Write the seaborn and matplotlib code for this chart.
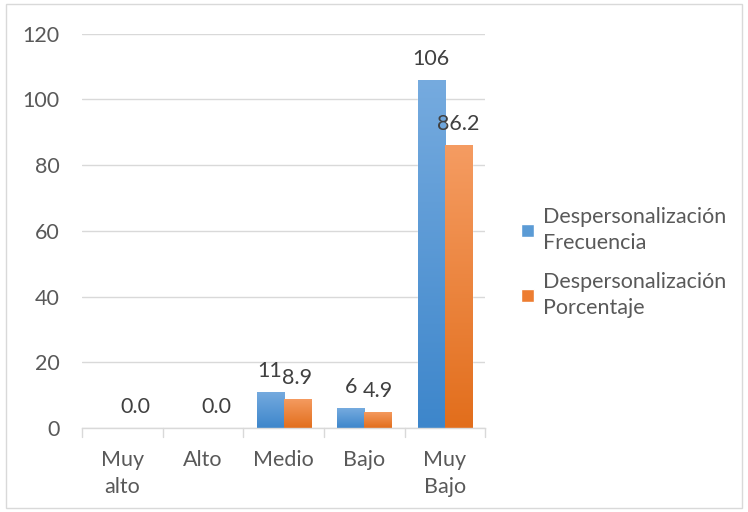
import numpy as np
import pandas as pd
import matplotlib
matplotlib.use("Agg")
import matplotlib.pyplot as plt
import seaborn as sns
from matplotlib.colors import LinearSegmentedColormap
from matplotlib.patches import Rectangle

categories = ["Muy\nalto", "Alto", "Medio", "Bajo", "Muy\nBajo"]
series_names = ["Despersonalización\nFrecuencia", "Despersonalización\nPorcentaje"]
frecuencia = [0, 0, 11, 6, 106]
porcentaje = [0.0, 0.0, 8.9, 4.9, 86.2]
y_ticks = [0, 20, 40, 60, 80, 100, 120]

base_colors = ["#5B9BD5", "#ED7D31"]
grad_colors = [("#76ABDF", "#3D86CB"), ("#F59C62", "#E26E1C")]

df = pd.DataFrame({
    "categoria": categories * 2,
    "serie": [series_names[0]] * len(categories) + [series_names[1]] * len(categories),
    "valor": frecuencia + porcentaje,
})

sns.set_style("white")
plt.rcParams["font.family"] = ["Lato", "DejaVu Sans"]
text_color = "#595959"
fs = 15.5

fig = plt.figure(figsize=(7.48, 5.12), dpi=100)
ax = fig.add_axes([0.1096, 0.164, 0.539, 0.770])

sns.barplot(data=df, x="categoria", y="valor", hue="serie", order=categories,
            hue_order=series_names, palette=base_colors, width=0.67,
            saturation=1, ax=ax, legend=True)

ax.set_ylim(0, 120)
ax.set_xlim(-0.5, len(categories) - 0.5)
ax.set_yticks(y_ticks)
ax.set_yticklabels([str(t) for t in y_ticks], fontsize=fs, color=text_color)
ax.tick_params(axis="y", length=0, pad=16)
ax.set_xticks(range(len(categories)))
ax.set_xticklabels(categories, fontsize=fs, color=text_color, linespacing=1.45)
ax.tick_params(axis="x", length=0, pad=16)
ax.set_xlabel("")
ax.set_ylabel("")
ax.yaxis.grid(True, color="#D9D9D9", linewidth=1)
ax.set_axisbelow(True)
for s in ["left", "right", "top"]:
    ax.spines[s].set_visible(False)
ax.spines["bottom"].set_color("#D9D9D9")
ax.spines["bottom"].set_linewidth(1)

# category separator ticks below the axis line
for b in np.arange(-0.5, len(categories), 1.0):
    ax.plot([b, b], [0, -2.6], color="#D9D9D9", lw=1, clip_on=False, zorder=1)

# vertical gradient fill for each bar
bar_patches = [p for p in ax.patches if isinstance(p, Rectangle) and p.get_width() > 0][:2 * len(categories)]
for i, p in enumerate(bar_patches):
    si = i // len(categories)
    x0, y0 = p.get_x(), p.get_y()
    w, h = p.get_width(), p.get_height()
    if h <= 0:
        continue
    cmap = LinearSegmentedColormap.from_list("g", [grad_colors[si][1], grad_colors[si][0]])
    grad = np.linspace(0, 1, 256).reshape(-1, 1)
    im = ax.imshow(grad, cmap=cmap, origin="lower", aspect="auto",
                   extent=[x0, x0 + w, y0, y0 + h], zorder=p.get_zorder() + 0.1)
    im.set_clip_path(p)
ax.set_xlim(-0.5, len(categories) - 0.5)
ax.set_ylim(0, 120)

# value labels
bw = 0.67 / 2
for i, v in enumerate(frecuencia):
    if v != 0:
        ax.annotate(f"{v:d}", (i - bw / 2, v), xytext=(0, 8), textcoords="offset points",
                    ha="center", va="bottom", fontsize=fs, color="#404040")
for i, v in enumerate(porcentaje):
    ax.annotate(f"{v:.1f}", (i + bw / 2, v), xytext=(0, 8), textcoords="offset points",
                ha="center", va="bottom", fontsize=fs, color="#404040")

# legend on the right
handles, labels = ax.get_legend_handles_labels()
ax.legend(handles, labels, loc="center left", bbox_to_anchor=(1.04, 0.42), frameon=False,
          fontsize=fs, labelcolor=text_color, handlelength=0.6, handleheight=0.6,
          handletextpad=0.45, labelspacing=0.9)
for t in ax.get_legend().get_texts():
    t.set_linespacing(1.35)

# outer chart border
fig.patches.append(Rectangle((0.008, 0.008), 0.984, 0.984, transform=fig.transFigure,
                             fill=False, edgecolor="#D9D9D9", lw=1))

fig.savefig("out.png", dpi=100)
